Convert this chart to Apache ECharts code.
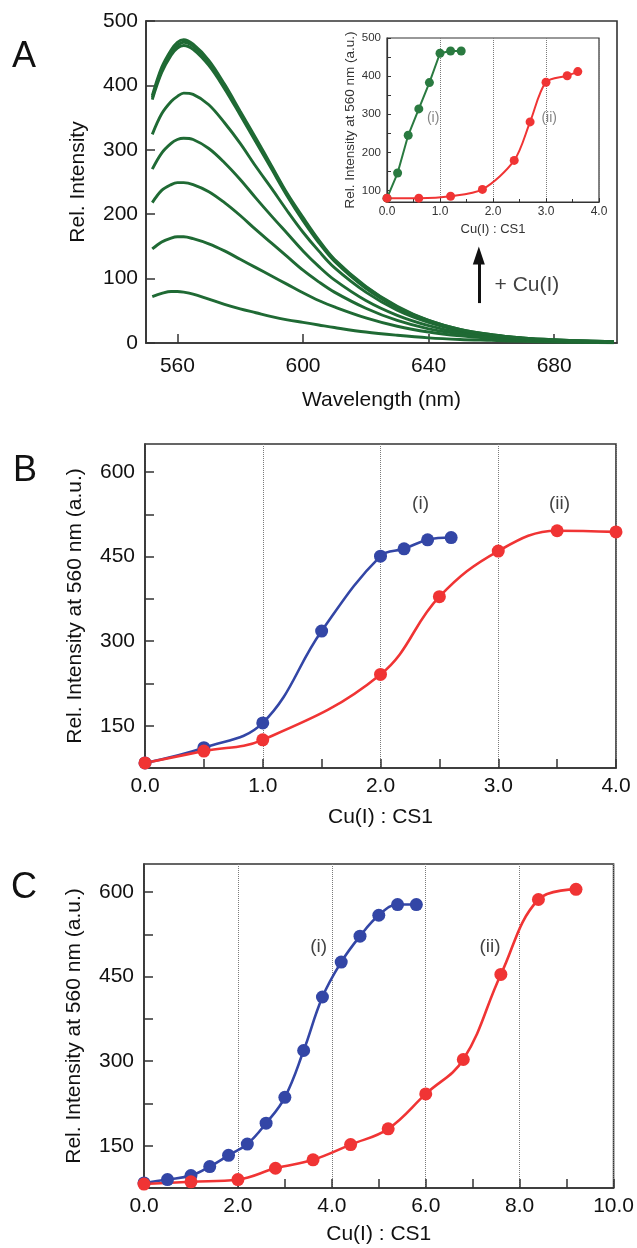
<!DOCTYPE html>
<html><head><meta charset="utf-8">
<script src="https://cdn.jsdelivr.net/npm/echarts@6/dist/echarts.min.js"></script>
<style>html,body{margin:0;padding:0;background:#fff}#c{width:637px;height:1248px}</style>
</head><body><div id="c"></div>
<script>
// ---------- Panel A: emission spectra ----------
const wavelengths = [552,555,558,560,562,565,570,575,580,585,590,595,600,605,610,620,630,640,650,660,670,680,690,699];
const spec1 = [72,77,80,80,79,76,68,60,53,47,41,36,32,28,24,17,12,8,5.5,4,2.5,1.5,1,0.5];
const spec2 = [146,157,163,165,165,162,154,143,130,117,104,91,78,66,56,39,26,17,11,7,4,2.5,1.5,1];
const spec3 = [218,237,246,249,249,246,235,218,198,176,155,134,113,95,79,54,35,22,14,8,5,3,2,1];
const spec4 = [270,295,310,316,318,316,302,280,254,225,197,170,143,119,98,66,43,27,16,10,6,3.5,2,1];
const spec5 = [324,356,375,383,388,386,370,342,310,274,240,205,172,143,117,79,51,32,19,12,7,4,2.5,1.5];
const spec6 = [378,420,447,458,462,456,431,395,354,312,270,228,190,156,127,85,55,34,20,12,7,4,3,2];
const spec7 = [381,424,451,462,467,461,436,399,357,315,273,230,193,158,129,87,56,35,21,13,8,5,3,2];
const spec8 = [384,428,455,467,471,464,439,402,360,318,275,232,195,160,130,88,57,35,21,13,8,5,3,2];
const spectra = [spec1,spec2,spec3,spec4,spec5,spec6,spec7,spec8];
const aXTicks = [560,600,640,680];
const aYTicks = [0,100,200,300,400,500];
const arrowFrom = [656, 62], arrowTo = [656, 136];

// ---------- Panel A inset ----------
const insetRatioI = [0,0.2,0.4,0.6,0.8,1.0,1.2,1.4];
const insetIntI   = [80,146,245,314,383,460,466,466];
const insetRatioII = [0,0.6,1.2,1.8,2.4,2.7,3.0,3.4,3.6];
const insetIntII   = [80,80,85,103,179,280,384,401,412];
const insetYLabels = [100,200,300,400,500];
const insetYTicks  = [100,150,200,250,300,350,400,450,500];

// ---------- Panel B ----------
const bRatioI = [0,0.5,1.0,1.5,2.0,2.2,2.4,2.6];
const bIntI   = [84,111,155,318,451,464,480,484];
const bRatioII = [0,0.5,1.0,2.0,2.5,3.0,3.5,4.0];
const bIntII   = [84,105,125,241,379,460,496,494];

// ---------- Panel C ----------
const cRatioI = [0,0.5,1.0,1.4,1.8,2.2,2.6,3.0,3.4,3.8,4.2,4.6,5.0,5.4,5.8];
const cIntI   = [84,90,97,113,133,153,190,236,319,414,476,522,559,578,578];
const cRatioII = [0,1.0,2.0,2.8,3.6,4.4,5.2,6.0,6.8,7.6,8.4,9.2];
const cIntII   = [82,86,90,110,125,152,180,242,303,454,587,605];

const bcYLabels = [150,300,450,600];
const bcYTicks  = [150,225,300,375,450,525,600];

const FONT = "'Liberation Sans', Arial, Helvetica, sans-serif";
const AX = '#333', TXT = '#111';
const GREEN = '#1f6a34', IGREEN = '#2a7a40', RED = '#f03434', BLUE = '#3346a6';

const zip = (xs, ys) => xs.map((x, i) => [x, ys[i]]);

function xAx(gi, o) {
  return Object.assign({
    type: 'value', gridIndex: gi,
    axisLine: {show: true, onZero: false, lineStyle: {color: AX, width: 1.6}},
    axisTick: {show: true, inside: true, length: 9, lineStyle: {color: AX, width: 1.5}},
    axisLabel: {fontFamily: FONT, fontSize: 21, color: TXT, margin: 9},
    splitLine: {show: false},
    nameLocation: 'middle',
    nameTextStyle: {fontFamily: FONT, fontSize: 21, color: TXT}
  }, o);
}
function yAx(gi, o) {
  return Object.assign({
    type: 'value', gridIndex: gi,
    axisLine: {show: true, onZero: false, lineStyle: {color: AX, width: 1.6}},
    axisTick: {show: true, inside: true, length: 9, lineStyle: {color: AX, width: 1.5}},
    axisLabel: {fontFamily: FONT, fontSize: 21, color: TXT, margin: 9},
    splitLine: {show: false},
    nameLocation: 'middle',
    nameTextStyle: {fontFamily: FONT, fontSize: 21, color: TXT}
  }, o);
}
const dotted = {show: true, lineStyle: {type: 'dotted', color: '#7a7a7a', width: 1}};

const series = [];
spectra.forEach((s, k) => {
  const sr = {
    type: 'line', xAxisIndex: 0, yAxisIndex: 0, data: zip(wavelengths, s),
    smooth: 0.35, showSymbol: false, symbol: 'none',
    lineStyle: {color: GREEN, width: 2.9}, silent: true
  };
  if (k === 0) {
    sr.markLine = {
      silent: true, symbol: ['none', 'triangle'], symbolSize: 16,
      lineStyle: {color: '#111', width: 3, type: 'solid'}, label: {show: false},
      data: [[{coord: arrowFrom, symbol: 'none'}, {coord: arrowTo, symbol: 'triangle', symbolSize: [12, 18]}]]
    };
  }
  series.push(sr);
});
// label in panel A
series.push({
  type: 'scatter', xAxisIndex: 0, yAxisIndex: 0, symbolSize: 0,
  data: [{value: [661, 90], name: '+ Cu(I)'}],
  label: {show: true, position: 'right', distance: 0, formatter: p => p.name,
          fontFamily: FONT, fontSize: 21, color: TXT}
});
// inset
series.push({
  type: 'line', xAxisIndex: 1, yAxisIndex: 1, data: zip(insetRatioI, insetIntI),
  symbol: 'circle', symbolSize: 9, lineStyle: {color: IGREEN, width: 2},
  itemStyle: {color: IGREEN}
});
series.push({
  type: 'line', xAxisIndex: 1, yAxisIndex: 1, data: zip(insetRatioII, insetIntII),
  smooth: 0.3, symbol: 'circle', symbolSize: 9, lineStyle: {color: RED, width: 2},
  itemStyle: {color: RED}
});
series.push({
  type: 'scatter', xAxisIndex: 1, yAxisIndex: 1, symbolSize: 0,
  data: [{value: [0.87, 290], name: '(i)'}, {value: [3.06, 290], name: '(ii)'}],
  label: {show: true, position: 'inside', formatter: p => p.name,
          fontFamily: FONT, fontSize: 14, color: '#666'}
});
// panel B
series.push({
  type: 'line', xAxisIndex: 2, yAxisIndex: 2, data: zip(bRatioI, bIntI),
  smooth: 0.4, symbol: 'circle', symbolSize: 13, lineStyle: {color: BLUE, width: 2.6},
  itemStyle: {color: BLUE}
});
series.push({
  type: 'line', xAxisIndex: 2, yAxisIndex: 2, data: zip(bRatioII, bIntII),
  smooth: 0.4, symbol: 'circle', symbolSize: 13, lineStyle: {color: RED, width: 2.6},
  itemStyle: {color: RED}
});
series.push({
  type: 'scatter', xAxisIndex: 2, yAxisIndex: 2, symbolSize: 0,
  data: [{value: [2.34, 544], name: '(i)'}, {value: [3.52, 544], name: '(ii)'}],
  label: {show: true, position: 'inside', formatter: p => p.name,
          fontFamily: FONT, fontSize: 19, color: TXT}
});
// panel C
series.push({
  type: 'line', xAxisIndex: 3, yAxisIndex: 3, data: zip(cRatioI, cIntI),
  smooth: 0.4, symbol: 'circle', symbolSize: 13, lineStyle: {color: BLUE, width: 2.6},
  itemStyle: {color: BLUE}
});
series.push({
  type: 'line', xAxisIndex: 3, yAxisIndex: 3, data: zip(cRatioII, cIntII),
  smooth: 0.4, symbol: 'circle', symbolSize: 13, lineStyle: {color: RED, width: 2.6},
  itemStyle: {color: RED}
});
series.push({
  type: 'scatter', xAxisIndex: 3, yAxisIndex: 3, symbolSize: 0,
  data: [{value: [3.72, 503], name: '(i)'}, {value: [7.37, 503], name: '(ii)'}],
  label: {show: true, position: 'inside', formatter: p => p.name,
          fontFamily: FONT, fontSize: 19, color: TXT}
});

const gridBase = {show: true, borderColor: AX, borderWidth: 1.6, backgroundColor: 'transparent', containLabel: false};

const option = {
  animation: false,
  backgroundColor: '#fff',
  grid: [
    Object.assign({left: 146, top: 21, width: 471, height: 322}, gridBase),
    Object.assign({left: 387, top: 38, width: 212, height: 164}, gridBase, {borderWidth: 1.2}),
    Object.assign({left: 145, top: 444, width: 471, height: 324}, gridBase),
    Object.assign({left: 144, top: 864, width: 471, height: 324}, gridBase)
  ],
  xAxis: [
    xAx(0, {min: 550, max: 700, name: 'Wavelength (nm)', nameGap: 47,
            axisTick: {show: true, inside: true, length: 9, lineStyle: {color: AX, width: 1.5}, customValues: aXTicks},
            axisLabel: {fontFamily: FONT, fontSize: 21, color: TXT, margin: 13, customValues: aXTicks}}),
    xAx(1, {min: 0, max: 4, interval: 1, name: 'Cu(I) : CS1', nameGap: 21,
            nameTextStyle: {fontFamily: FONT, fontSize: 13, color: '#333'},
            axisLine: {show: true, onZero: false, lineStyle: {color: AX, width: 1.2}},
            axisTick: {show: true, inside: true, length: 4, lineStyle: {color: AX, width: 1}},
            minorTick: {show: true, splitNumber: 2, length: 3, lineStyle: {color: AX, width: 1}},
            axisLabel: {fontFamily: FONT, fontSize: 12, color: '#333', margin: 4, formatter: v => v.toFixed(1)},
            splitLine: dotted}),
    xAx(2, {min: 0, max: 4, interval: 1, name: 'Cu(I) : CS1', nameGap: 39,
            minorTick: {show: true, splitNumber: 2, length: 9, lineStyle: {color: AX, width: 1.5}},
            axisLabel: {fontFamily: FONT, fontSize: 21, color: TXT, margin: 8, formatter: v => v.toFixed(1)},
            splitLine: dotted}),
    xAx(3, {min: 0, max: 10, interval: 2, name: 'Cu(I) : CS1', nameGap: 36,
            minorTick: {show: true, splitNumber: 2, length: 9, lineStyle: {color: AX, width: 1.5}},
            axisLabel: {fontFamily: FONT, fontSize: 21, color: TXT, margin: 8, formatter: v => v.toFixed(1)},
            splitLine: dotted})
  ],
  yAxis: [
    yAx(0, {min: 0, max: 500, name: 'Rel. Intensity', nameGap: 57,
            axisTick: {show: true, inside: true, length: 9, lineStyle: {color: AX, width: 1.5}, customValues: aYTicks},
            axisLabel: {fontFamily: FONT, fontSize: 21, color: TXT, margin: 8, customValues: aYTicks}}),
    yAx(1, {min: 70, max: 500, name: 'Rel. Intensity at 560 nm (a.u.)', nameGap: 30,
            nameTextStyle: {fontFamily: FONT, fontSize: 13.5, color: '#333'},
            axisLine: {show: true, onZero: false, lineStyle: {color: AX, width: 1.2}},
            axisTick: {show: true, inside: true, length: 4, lineStyle: {color: AX, width: 1}, customValues: insetYTicks},
            axisLabel: {fontFamily: FONT, fontSize: 11.5, color: '#333', margin: 6, customValues: insetYLabels}}),
    yAx(2, {min: 75, max: 650, name: 'Rel. Intensity at 560 nm (a.u.)', nameGap: 59,
            axisTick: {show: true, inside: true, length: 9, lineStyle: {color: AX, width: 1.5}, customValues: bcYTicks},
            axisLabel: {fontFamily: FONT, fontSize: 21, color: TXT, margin: 10, customValues: bcYLabels}}),
    yAx(3, {min: 75, max: 650, name: 'Rel. Intensity at 560 nm (a.u.)', nameGap: 59,
            axisTick: {show: true, inside: true, length: 9, lineStyle: {color: AX, width: 1.5}, customValues: bcYTicks},
            axisLabel: {fontFamily: FONT, fontSize: 21, color: TXT, margin: 10, customValues: bcYLabels}})
  ],
  graphic: [
    {type: 'text', left: 12, top: 39, style: {text: 'A', fontFamily: FONT, fontSize: 36, fill: '#111'}},
    {type: 'text', left: 13, top: 453, style: {text: 'B', fontFamily: FONT, fontSize: 36, fill: '#111'}},
    {type: 'text', left: 11, top: 870, style: {text: 'C', fontFamily: FONT, fontSize: 36, fill: '#111'}}
  ],
  series: series
};

const chart = echarts.init(document.getElementById('c'), null, {renderer: 'canvas'});
chart.setOption(option);
</script>
</body></html>
